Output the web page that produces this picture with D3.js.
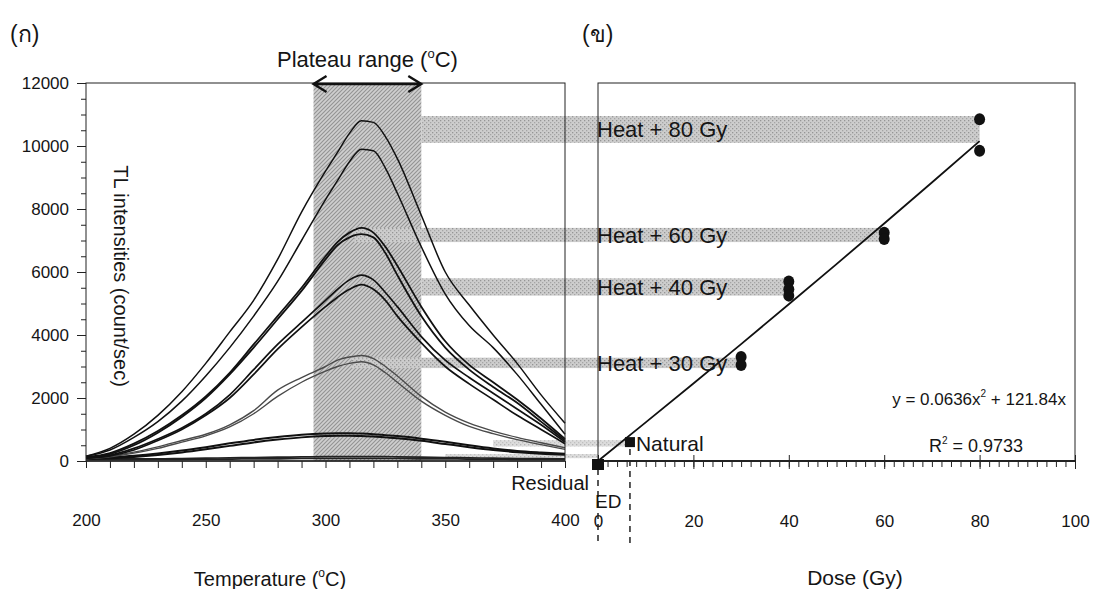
<!DOCTYPE html>
<html>
<head>
<meta charset="utf-8">
<script src="https://cdn.jsdelivr.net/npm/d3@7"></script>
<style>
  body { margin: 0; background: #fff; }
  text { font-family: "Liberation Sans", Arial, sans-serif; fill: #151515; }
</style>
</head>
<body>
<div id="chart"></div>
<script>
// temperatures (°C) at which glow curves were read
const temps = [200, 210, 220, 230, 240, 250, 260, 270, 280, 290, 300, 305, 310, 315, 320, 325, 330, 340, 350, 360, 370, 380, 390, 400];

// TL glow curves (count/sec)
const heat80a = [150, 400, 850, 1450, 2200, 3100, 4100, 5100, 6400, 7900, 9200, 9800, 10400, 10800, 10750, 10300, 9600, 7800, 6000, 4950, 4000, 3100, 2100, 1200];
const heat80b = [150, 350, 750, 1250, 1900, 2700, 3600, 4600, 5700, 7000, 8300, 8900, 9500, 9900, 9850, 9300, 8500, 6800, 5300, 4300, 3600, 2750, 1800, 850];
const heat60a = [120, 250, 550, 950, 1450, 2050, 2800, 3700, 4600, 5500, 6500, 6950, 7250, 7400, 7250, 6800, 6200, 4900, 3800, 3050, 2500, 1950, 1350, 700];
const heat60b = [100, 220, 500, 900, 1400, 2000, 2750, 3600, 4500, 5400, 6400, 6850, 7100, 7200, 7100, 6600, 5900, 4600, 3600, 2900, 2350, 1850, 1250, 650];
const heat40a = [100, 180, 400, 700, 1050, 1500, 2100, 2900, 3700, 4400, 5100, 5450, 5750, 5900, 5750, 5350, 4900, 3950, 3200, 2650, 2150, 1650, 1150, 600];
const heat40b = [90, 160, 350, 650, 1000, 1450, 2000, 2750, 3550, 4250, 4900, 5200, 5450, 5600, 5450, 5100, 4600, 3750, 3000, 2450, 1950, 1450, 1000, 550];
const heat30a = [80, 150, 280, 450, 650, 850, 1150, 1600, 2250, 2650, 3000, 3200, 3300, 3350, 3250, 3000, 2700, 2050, 1550, 1200, 950, 750, 580, 420];
const heat30b = [70, 130, 250, 400, 600, 800, 1080, 1500, 2050, 2500, 2850, 3000, 3100, 3150, 3050, 2800, 2500, 1900, 1450, 1100, 870, 680, 520, 370];
const naturalA = [80, 120, 170, 240, 330, 440, 560, 670, 760, 830, 870, 880, 880, 870, 850, 820, 790, 710, 610, 500, 400, 320, 270, 230];
const naturalB = [60, 90, 130, 190, 270, 370, 480, 590, 680, 750, 790, 800, 800, 790, 780, 750, 720, 640, 540, 440, 350, 280, 230, 200];
const residualA = [60, 60, 70, 70, 80, 90, 100, 110, 120, 130, 140, 140, 140, 140, 140, 140, 130, 120, 110, 100, 90, 80, 80, 70];
const residualB = [40, 40, 40, 50, 50, 60, 60, 70, 70, 80, 80, 80, 80, 80, 80, 80, 80, 70, 70, 60, 60, 50, 50, 50];

// plateau range (°C)
const plateau = [295, 340];

// horizontal bands linking plateau intensities to dose points
const bandLabels = ["Heat + 80 Gy", "Heat + 60 Gy", "Heat + 40 Gy", "Heat + 30 Gy", "", ""];
const bandLow = [10100, 6950, 5250, 2950, 460, 90];
const bandHigh = [10950, 7400, 5800, 3280, 660, 220];
const bandStartT = [340, 312, 340, 311, 370, 350];
const bandEndDose = [80, 60, 40, 30, 6.7, 0];

// dose response points
const heatDose = [30, 30, 40, 40, 40, 60, 60, 80, 80];
const heatTL = [3300, 3050, 5700, 5450, 5250, 7250, 7050, 10850, 9850];
const squareDose = [0, 6.7];
const squareTL = [0, 600];
const squareLabels = ["Residual", "Natural"];

// fitted curve y = 0.0636x^2 + 121.84x, read at these doses
const fitDose = [0, 10, 20, 30, 40, 50, 60, 70, 80];
const fitTL = [0, 1225, 2462, 3712, 4975, 6251, 7540, 8841, 10154];

const tempTicks = [200, 250, 300, 350, 400];
const doseTicks = [0, 20, 40, 60, 80, 100];
const tlTicks = [0, 2000, 4000, 6000, 8000, 10000, 12000];

const width = 1093, height = 589;

const svg = d3.select("#chart").append("svg")
    .attr("width", width)
    .attr("height", height)
    .style("display", "block");

svg.append("rect").attr("width", width).attr("height", height).attr("fill", "#fff");

const xT = d3.scaleLinear().domain([200, 400]).range([86, 565]);
const xD = d3.scaleLinear().domain([0, 100]).range([598, 1075]);
const y = d3.scaleLinear().domain([0, 12000]).range([461, 83]);

// textures
const defs = svg.append("defs");
const hatch = defs.append("pattern")
    .attr("id", "hatch").attr("patternUnits", "userSpaceOnUse")
    .attr("width", 4).attr("height", 4);
hatch.append("rect").attr("width", 4).attr("height", 4).attr("fill", "#cfcfcf");
hatch.append("path").attr("d", "M-1,1 l2,-2 M0,4 l4,-4 M3,5 l2,-2")
    .attr("stroke", "#939393").attr("stroke-width", 1.1);

const dots = defs.append("pattern")
    .attr("id", "dots").attr("patternUnits", "userSpaceOnUse")
    .attr("width", 4).attr("height", 4);
dots.append("rect").attr("width", 4).attr("height", 4).attr("fill", "#cdcdcd");
dots.append("rect").attr("x", 0).attr("y", 0).attr("width", 1.3).attr("height", 1.3).attr("fill", "#959595");
dots.append("rect").attr("x", 2).attr("y", 2).attr("width", 1.3).attr("height", 1.3).attr("fill", "#a5a5a5");

// plateau shading
svg.append("rect")
    .attr("x", xT(plateau[0]))
    .attr("y", y(12000))
    .attr("width", xT(plateau[1]) - xT(plateau[0]))
    .attr("height", y(0) - y(12000))
    .attr("fill", "url(#hatch)");

// bands
const bands = bandLow.map((d, i) => ({ lo: d, hi: bandHigh[i], t: bandStartT[i], dose: bandEndDose[i], label: bandLabels[i] }));
svg.append("g").selectAll("rect").data(bands).join("rect")
    .attr("x", d => xT(d.t))
    .attr("y", d => y(d.hi))
    .attr("width", d => xD(d.dose) - xT(d.t))
    .attr("height", d => y(d.lo) - y(d.hi))
    .attr("fill", "url(#dots)")
    .attr("opacity", (d, i) => i > 3 ? 0.7 : 1);

// glow curves
const curves = [
    { v: residualA, c: "#222", w: 1.7 },
    { v: residualB, c: "#222", w: 1.7 },
    { v: naturalA, c: "#111", w: 2 },
    { v: naturalB, c: "#111", w: 2 },
    { v: heat30a, c: "#4a4a4a", w: 1.4 },
    { v: heat30b, c: "#4a4a4a", w: 1.4 },
    { v: heat40a, c: "#111", w: 1.7 },
    { v: heat40b, c: "#111", w: 1.7 },
    { v: heat60a, c: "#111", w: 1.8 },
    { v: heat60b, c: "#111", w: 1.8 },
    { v: heat80a, c: "#111", w: 1.5 },
    { v: heat80b, c: "#111", w: 1.5 }
];
const line = d3.line()
    .x((d, i) => xT(temps[i]))
    .y(d => y(d))
    .curve(d3.curveMonotoneX);
svg.append("g").selectAll("path").data(curves).join("path")
    .attr("d", d => line(d.v))
    .attr("fill", "none")
    .attr("stroke", d => d.c)
    .attr("stroke-width", d => d.w);

// frames
svg.append("rect")
    .attr("x", xT(200)).attr("y", y(12000))
    .attr("width", xT(400) - xT(200)).attr("height", y(0) - y(12000))
    .attr("fill", "none").attr("stroke", "#222").attr("stroke-width", 1);
svg.append("rect")
    .attr("x", xD(0)).attr("y", y(12000))
    .attr("width", xD(100) - xD(0)).attr("height", y(0) - y(12000))
    .attr("fill", "none").attr("stroke", "#222").attr("stroke-width", 1);

// left y axis
const yMinor = svg.append("g").attr("transform", `translate(${xT(200)},0)`)
    .call(d3.axisLeft(y).tickValues(d3.range(0, 12001, 500)).tickSize(5).tickFormat(""));
const yMajor = svg.append("g").attr("transform", `translate(${xT(200)},0)`)
    .call(d3.axisLeft(y).tickValues(tlTicks).tickSize(9).tickPadding(8).tickFormat(d3.format("d")));

// left x axis
const xTMinor = svg.append("g").attr("transform", `translate(0,${y(0)})`)
    .call(d3.axisBottom(xT).tickValues(d3.range(200, 401, 10)).tickSize(7).tickFormat(""));
const xTLab = svg.append("g").attr("transform", `translate(0,${y(0)})`)
    .call(d3.axisBottom(xT).tickValues(tempTicks).tickSize(0).tickPadding(53).tickFormat(d3.format("d")));

// right x axis
const xDMinor = svg.append("g").attr("transform", `translate(0,${y(0)})`)
    .call(d3.axisBottom(xD).tickValues(d3.range(0, 101, 2)).tickSize(6).tickFormat(""));
const xDMajor = svg.append("g").attr("transform", `translate(0,${y(0) - 6})`)
    .call(d3.axisBottom(xD).tickValues(doseTicks).tickSize(14).tickFormat(""));
const xDLab = svg.append("g").attr("transform", `translate(0,${y(0)})`)
    .call(d3.axisBottom(xD).tickValues(doseTicks).tickSize(0).tickPadding(54).tickFormat(d3.format("d")));

[yMinor, yMajor, xTMinor, xTLab, xDMinor, xDMajor, xDLab].forEach(g => {
    g.select(".domain").remove();
    g.selectAll("line").attr("stroke", "#222");
    g.selectAll("text").attr("fill", "#151515").style("font-size", "17px")
        .style("font-family", "'Liberation Sans',sans-serif");
});
svg.append("line").attr("x1", xD(0)).attr("x2", xD(100)).attr("y1", y(0)).attr("y2", y(0))
    .attr("stroke", "#222").attr("stroke-width", 2);
svg.append("line").attr("x1", xT(200)).attr("x2", xT(400)).attr("y1", y(0)).attr("y2", y(0))
    .attr("stroke", "#222").attr("stroke-width", 1.6);

// fit line
svg.append("path")
    .attr("d", d3.line().x((d, i) => xD(fitDose[i])).y(d => y(d))(fitTL))
    .attr("fill", "none").attr("stroke", "#111").attr("stroke-width", 1.8);

// dashed drop lines for residual and ED
svg.append("g").selectAll("line").data(squareDose).join("line")
    .attr("x1", d => xD(d)).attr("x2", d => xD(d))
    .attr("y1", (d, i) => i === 0 ? y(0) + 8 : y(0) - 12)
    .attr("y2", 545)
    .attr("stroke", "#222").attr("stroke-width", 1.5)
    .attr("stroke-dasharray", "6,5");

// dose points
svg.append("g").selectAll("ellipse").data(heatDose).join("ellipse")
    .attr("cx", d => xD(d))
    .attr("cy", (d, i) => y(heatTL[i]))
    .attr("rx", 5.5).attr("ry", 6)
    .attr("fill", "#111");

svg.append("g").selectAll("rect").data(squareDose).join("rect")
    .attr("x", (d, i) => xD(d) - (i === 0 ? 6 : 5))
    .attr("y", (d, i) => y(squareTL[i]) - (i === 0 ? 2 : 5))
    .attr("width", (d, i) => i === 0 ? 12 : 10)
    .attr("height", (d, i) => i === 0 ? 11 : 10)
    .attr("fill", "#111");

// band labels
svg.append("g").selectAll("text").data(bands.filter(d => d.label)).join("text")
    .attr("x", xD(0) - 1)
    .attr("y", d => (y(d.lo) + y(d.hi)) / 2)
    .attr("dy", "0.36em")
    .style("font-size", "22px")
    .text(d => d.label);

svg.append("text").attr("x", xD(squareDose[1]) + 6).attr("y", y(squareTL[1]) + 1)
    .attr("dy", "0.36em").style("font-size", "21px").text(squareLabels[1]);
svg.append("text").attr("x", 589).attr("y", 490).attr("text-anchor", "end")
    .style("font-size", "20px").text(squareLabels[0]);
svg.append("text").attr("x", 595).attr("y", 508)
    .style("font-size", "19px").text("ED");

// plateau arrow
const ax0 = xT(plateau[0]), ax1 = xT(plateau[1]), ay = y(12000) + 1;
svg.append("path")
    .attr("d", `M${ax0},${ay}H${ax1} M${ax0 + 13},${ay - 8}L${ax0},${ay}L${ax0 + 13},${ay + 8} M${ax1 - 13},${ay - 8}L${ax1},${ay}L${ax1 - 13},${ay + 8}`)
    .attr("fill", "none").attr("stroke", "#111").attr("stroke-width", 2.4);

// titles
const plat = svg.append("text").attr("x", (ax0 + ax1) / 2).attr("y", 67)
    .attr("text-anchor", "middle").style("font-size", "22px");
plat.append("tspan").text("Plateau range (");
plat.append("tspan").attr("dy", -9).style("font-size", "13px").text("o");
plat.append("tspan").attr("dy", 9).text("C)");

const tt = svg.append("text").attr("x", 270).attr("y", 586)
    .attr("text-anchor", "middle").style("font-size", "20px");
tt.append("tspan").text("Temperature (");
tt.append("tspan").attr("dy", -9).style("font-size", "12px").text("o");
tt.append("tspan").attr("dy", 9).text("C)");

svg.append("text").attr("x", 855).attr("y", 585).attr("text-anchor", "middle")
    .style("font-size", "21px").text("Dose (Gy)");

svg.append("text")
    .attr("transform", "translate(114,276) rotate(90)")
    .attr("text-anchor", "middle")
    .style("font-size", "20px")
    .text("TL intensities (count/sec)");

svg.append("text").attr("x", 10).attr("y", 42).style("font-size", "23px").text("(ก)");
svg.append("text").attr("x", 582).attr("y", 42).style("font-size", "23px").text("(ข)");

const eq = svg.append("text").attr("x", 1066).attr("y", 405).attr("text-anchor", "end").style("font-size", "17px");
eq.append("tspan").text("y = 0.0636x");
eq.append("tspan").attr("dy", -8).style("font-size", "10px").text("2");
eq.append("tspan").attr("dy", 8).text(" + 121.84x");

const r2 = svg.append("text").attr("x", 929).attr("y", 452).style("font-size", "18px");
r2.append("tspan").text("R");
r2.append("tspan").attr("dy", -8).style("font-size", "10px").text("2");
r2.append("tspan").attr("dy", 8).text(" = 0.9733");
</script>
</body>
</html>
